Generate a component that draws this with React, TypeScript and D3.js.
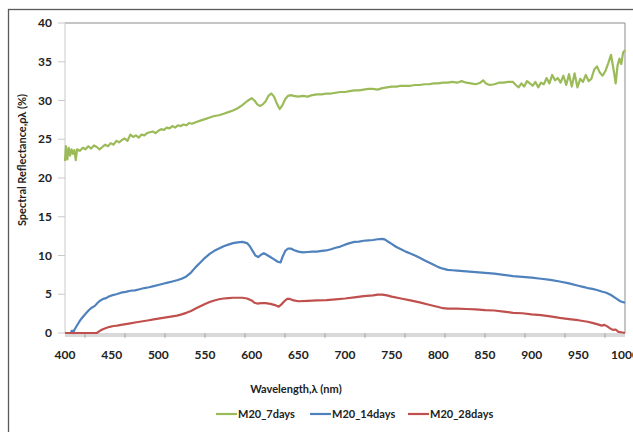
import React from "react";
import * as d3 from "d3";

const xTicks = [400, 450, 500, 550, 600, 650, 700, 750, 800, 850, 900, 950, 1000];
const yTicks = [0, 5, 10, 15, 20, 25, 30, 35, 40];
const seriesNames = ["M20_7days", "M20_14days", "M20_28days"];

const nm7 = [400,401,402.5,404,405.5,407,408.5,410,411.5,413,416,419,422,425,428,431,434,437,440,443,446,449,452,455,458,461,464,467,470,473,476,479,482,485,488,491,494,497,500,503,506,509,512,515,518,521,524,527,530,533,536,540,545,550,555,560,565,570,575,580,585,590,595,600,603,606,609,612,615,618,621,624,627,630,633,636,639,642,645,650,655,660,665,670,675,680,685,690,695,700,705,710,715,720,725,730,735,740,745,750,755,760,765,770,775,780,785,790,795,800,805,810,815,820,825,830,835,840,845,848,851,855,860,865,870,875,880,883,886,889,892,895,898,901,904,907,910,913,916,919,922,925,928,931,934,937,940,943,946,949,952,955,958,961,964,967,970,973,976,979,982,985,988,990,992,994,996,998,1000];
const val7 = [22.2,24.1,22.4,23.9,22.9,23.7,23.1,23.6,22.3,23.7,23.5,23.9,23.7,24.1,23.8,24.2,24.0,23.7,24.0,24.3,24.1,24.5,24.3,24.8,24.6,24.9,25.1,24.8,25.6,25.3,25.5,25.2,25.6,25.5,25.8,25.9,26.0,25.8,26.1,26.3,26.2,26.5,26.4,26.7,26.5,26.8,26.7,26.9,26.8,27.1,27.0,27.2,27.4,27.6,27.8,28.0,28.1,28.3,28.5,28.7,29.0,29.4,29.9,30.3,30.0,29.5,29.3,29.5,29.9,30.6,30.9,30.5,29.6,28.9,29.4,30.2,30.6,30.7,30.6,30.5,30.6,30.5,30.7,30.8,30.8,30.9,30.9,31.0,31.1,31.1,31.2,31.3,31.3,31.4,31.5,31.5,31.4,31.6,31.7,31.8,31.8,31.9,31.9,31.9,32.0,32.0,32.1,32.1,32.2,32.2,32.3,32.3,32.4,32.3,32.5,32.3,32.2,32.1,32.3,32.6,32.2,32.0,32.1,32.3,32.3,32.4,32.4,32.0,31.7,32.2,31.8,32.5,32.2,31.9,32.4,31.7,32.3,32.1,32.9,32.2,33.3,32.6,32.9,32.3,33.2,32.0,33.4,31.8,33.5,31.7,32.8,32.4,33.3,32.5,32.8,34.0,34.4,33.6,33.2,33.8,34.8,35.9,33.8,32.2,34.5,35.4,34.7,36.2,36.5];

const nm14 = [400,406,407.5,409,410,412,414,416,418,420,423,426,429,432,435,438,441,444,447,450,455,460,465,470,475,480,485,490,495,500,505,510,515,520,525,530,535,540,545,550,555,560,565,570,575,580,585,590,595,598,601,604,607,610,613,616,620,624,628,631,633,636,639,642,645,650,655,660,665,670,675,680,685,690,695,700,705,710,715,720,725,730,735,740,743,746,750,755,760,765,770,775,780,785,790,795,800,805,810,815,820,830,840,850,860,870,880,890,900,910,920,930,940,950,955,960,965,970,975,980,985,990,995,1000];
const val14 = [0,0,0.3,0,0.4,0.8,1.2,1.6,1.9,2.2,2.6,3.0,3.3,3.5,3.9,4.2,4.4,4.5,4.7,4.85,5.0,5.2,5.3,5.45,5.5,5.65,5.8,5.9,6.05,6.2,6.35,6.5,6.65,6.8,7.0,7.3,7.8,8.5,9.1,9.7,10.2,10.6,10.9,11.2,11.4,11.6,11.7,11.75,11.6,11.2,10.6,10.0,9.8,10.1,10.3,10.1,9.8,9.5,9.2,9.1,9.8,10.6,10.9,10.9,10.7,10.5,10.4,10.45,10.5,10.5,10.6,10.65,10.8,11.0,11.15,11.4,11.6,11.75,11.8,11.9,11.95,12.0,12.1,12.15,12.05,11.8,11.5,11.1,10.8,10.5,10.25,10.0,9.7,9.4,9.1,8.8,8.5,8.3,8.15,8.1,8.05,7.95,7.85,7.75,7.65,7.5,7.35,7.25,7.15,7.0,6.85,6.65,6.4,6.1,5.95,5.8,5.7,5.55,5.35,5.2,4.9,4.5,4.1,3.9];

const nm28 = [400,434,437,440,444,448,452,456,460,465,470,475,480,485,490,495,500,505,510,515,520,525,530,535,540,545,550,555,560,565,570,575,580,585,590,595,600,603,606,610,615,620,625,629,632,635,638,641,645,650,660,670,680,690,700,710,720,730,735,740,745,750,760,770,780,790,800,805,810,820,830,840,850,860,870,880,890,900,910,920,930,940,950,960,965,970,975,978,981,984,987,990,993,996,1000];
const val28 = [0,0,0.25,0.45,0.65,0.8,0.9,0.95,1.05,1.15,1.25,1.35,1.45,1.55,1.65,1.75,1.85,1.95,2.05,2.15,2.25,2.4,2.6,2.85,3.15,3.45,3.75,4.0,4.2,4.35,4.45,4.5,4.55,4.55,4.55,4.45,4.2,3.9,3.8,3.85,3.85,3.75,3.6,3.4,3.7,4.1,4.4,4.4,4.2,4.1,4.15,4.2,4.25,4.35,4.45,4.6,4.75,4.85,4.95,4.95,4.85,4.7,4.45,4.2,3.95,3.65,3.35,3.2,3.15,3.15,3.1,3.05,2.95,2.9,2.75,2.6,2.55,2.4,2.3,2.15,1.95,1.8,1.65,1.45,1.3,1.15,0.95,1.05,0.85,0.6,0.4,0.45,0.15,0.1,0];

const colors = ["#9BBB59", "#4F81BD", "#C0504D"];

const W = 633, H = 432;
const plotL = 65, plotR = 625, plotT = 23, plotB = 333;
const FONT = "Lato, 'Open Sans', sans-serif";

export default function App() {
  const x = d3.scaleLinear().domain([400, 1000]).range([plotL, plotR]);
  const y = d3.scaleLinear().domain([0, 40]).range([plotB, plotT]);
  const line = d3.line<[number, number]>().x(d => x(d[0])).y(d => y(d[1]));
  const series = [
    nm7.map((n, i) => [n, val7[i]] as [number, number]),
    nm14.map((n, i) => [n, val14[i]] as [number, number]),
    nm28.map((n, i) => [n, val28[i]] as [number, number]),
  ];
  // dense category-style axis ticks
  const minorTicks = d3.range(plotL + 20, plotR, 40);
  const legendX = [216, 310, 408];

  return (
    <svg width={W} height={H} style={{ position: "absolute", left: 0, top: 0, background: "#fff" }}
      fontFamily={FONT}>
      <rect x={0} y={0} width={W} height={H} fill="#fff" />
      <rect x={8.5} y={9.5} width={700} height={500} fill="none" stroke="#5a5a5a" strokeWidth={1.3} />
      {/* plot frame */}
      <line x1={plotL} x2={plotR} y1={plotT} y2={plotT} stroke="#8c8c8c" strokeWidth={1.2} />
      <line x1={plotR} x2={plotR} y1={plotT} y2={plotB} stroke="#a0a0a0" strokeWidth={1.2} />
      <line x1={plotL} x2={plotL} y1={plotT} y2={plotB} stroke="#d4d4d4" strokeWidth={1.2} />
      {/* y ticks */}
      {yTicks.map(t => (
        <g key={t}>
          <line x1={plotL - 7} x2={plotL} y1={y(t)} y2={y(t)} stroke="#c8c8c8" strokeWidth={1} />
          <text x={52} y={y(t)} dy="0.35em" textAnchor="end" fontSize={12} fontWeight={700} fill="#222">{t}</text>
        </g>
      ))}
      {/* x axis band */}
      <rect x={plotL} y={plotB} width={plotR - plotL} height={4} fill="#d9d9d9" />
      {minorTicks.map(t => (
        <line key={t} x1={t} x2={t} y1={plotB} y2={plotB + 5} stroke="#a6a6a6" strokeWidth={1} />
      ))}
      {xTicks.map(t => (
        <text key={t} x={x(t)} y={355} dy="0.35em" textAnchor="middle" fontSize={12} fontWeight={700} fill="#222">{t}</text>
      ))}
      {/* series */}
      {series.map((s, i) => (
        <path key={i} d={line(s) || ""} fill="none" stroke={colors[i]} strokeWidth={2.2} strokeLinejoin="round" />
      ))}
      {/* titles */}
      <text x={296} y={389} dy="0.35em" textAnchor="middle" fontSize={11} fontWeight={700} fill="#222">Wavelength,λ (nm)</text>
      <text transform={`translate(22,160) rotate(-90)`} dy="0.35em" textAnchor="middle" fontSize={11} fontWeight={700} fill="#222">Spectral Reflectance,ρλ (%)</text>
      {/* legend */}
      {seriesNames.map((n, i) => (
        <g key={n}>
          <line x1={legendX[i]} x2={legendX[i] + 21} y1={414} y2={414} stroke={colors[i]} strokeWidth={2.2} />
          <text x={legendX[i] + 22} y={414} dy="0.35em" fontSize={11} fontWeight={700} fill="#222">{n}</text>
        </g>
      ))}
    </svg>
  );
}
